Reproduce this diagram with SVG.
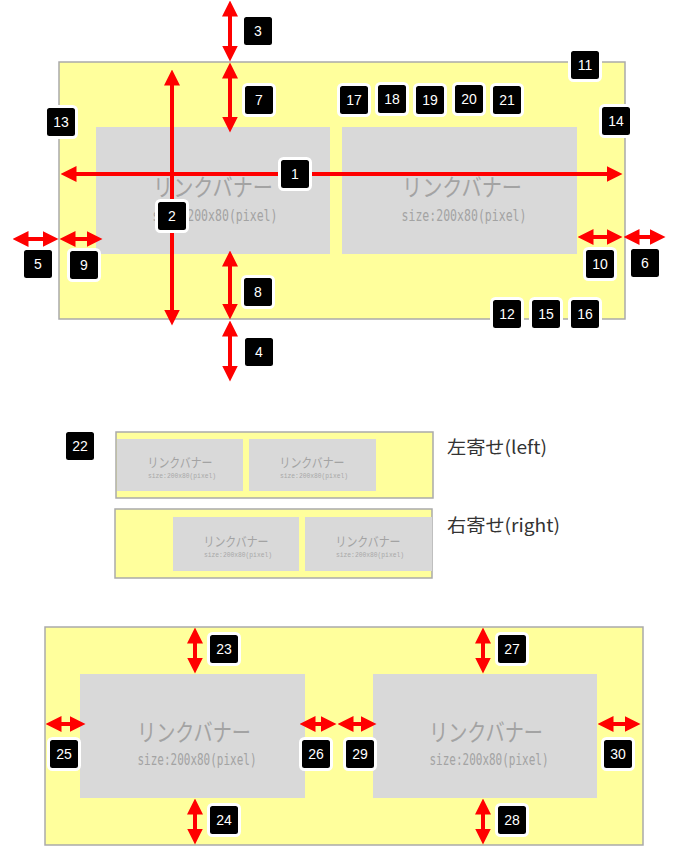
<svg xmlns="http://www.w3.org/2000/svg" width="675" height="846" viewBox="0 0 675 846">
<style>
.panel{fill:#ffff9c;stroke:#aaaaaa;stroke-width:1.5}
.ban{fill:#d9d9d9}
.bt{font-family:"Noto Sans CJK JP","Noto Sans",sans-serif;fill:#a3a3a3;text-anchor:middle}
.bs{font-family:"DejaVu Sans Mono","Liberation Mono",monospace;fill:#a3a3a3;text-anchor:middle}
.bss{font-family:"Liberation Mono","DejaVu Sans Mono",monospace;fill:#a8a8a8;text-anchor:middle}
.arr{stroke:#ff0000;stroke-width:4;fill:none;marker-start:url(#ah);marker-end:url(#ah)}
.lb rect{fill:#000;stroke:#fff;stroke-width:3}
.lb text{font-family:"Liberation Sans",Arial,sans-serif;font-size:14px;fill:#fff;text-anchor:middle}
.cap{font-family:"Noto Sans CJK JP","Noto Sans",sans-serif;font-size:18px;fill:#333}
</style>
<defs>
<marker id="ah" viewBox="0 0 16 16" markerWidth="16" markerHeight="16" refX="0.5" refY="8" orient="auto-start-reverse" markerUnits="userSpaceOnUse"><path d="M0,0 L16,8 L0,16 z" fill="#ff0000"/></marker>
</defs>
<rect width="675" height="846" fill="#fff"/>

<g id="top-panel">
<rect class="panel" x="59" y="62" width="566" height="257"/>
<rect class="ban" x="96" y="127" width="234" height="127"/>
<rect class="ban" x="342" y="127" width="235" height="127"/>
<text class="bt" x="213" y="196" font-size="24" textLength="120" lengthAdjust="spacingAndGlyphs">リンクバナー</text>
<text class="bs" x="215" y="221" font-size="15" textLength="125" lengthAdjust="spacingAndGlyphs">size:200x80(pixel)</text>
<text class="bt" x="462" y="196" font-size="24" textLength="120" lengthAdjust="spacingAndGlyphs">リンクバナー</text>
<text class="bs" x="464" y="221" font-size="15" textLength="125" lengthAdjust="spacingAndGlyphs">size:200x80(pixel)</text>
</g>

<g id="mid-left-panel">
<rect class="panel" x="116" y="432" width="317" height="66"/>
<rect class="ban" x="117" y="439" width="126" height="52"/>
<rect class="ban" x="249" y="439" width="127" height="52"/>
<text class="bt" x="180" y="467" font-size="13" textLength="65" lengthAdjust="spacingAndGlyphs">リンクバナー</text>
<text class="bss" x="182" y="478" font-size="7" textLength="68" lengthAdjust="spacingAndGlyphs">size:200x80(pixel)</text>
<text class="bt" x="312" y="467" font-size="13" textLength="65" lengthAdjust="spacingAndGlyphs">リンクバナー</text>
<text class="bss" x="314" y="478" font-size="7" textLength="68" lengthAdjust="spacingAndGlyphs">size:200x80(pixel)</text>
</g>
<text class="cap" x="447" y="454" textLength="100" lengthAdjust="spacingAndGlyphs">左寄せ(left)</text>

<g id="mid-right-panel">
<rect class="panel" x="115" y="509" width="317" height="69"/>
<rect class="ban" x="173" y="517" width="126" height="54"/>
<rect class="ban" x="305" y="517" width="127" height="54"/>
<text class="bt" x="236" y="546" font-size="13" textLength="65" lengthAdjust="spacingAndGlyphs">リンクバナー</text>
<text class="bss" x="238" y="557" font-size="7" textLength="68" lengthAdjust="spacingAndGlyphs">size:200x80(pixel)</text>
<text class="bt" x="368" y="546" font-size="13" textLength="65" lengthAdjust="spacingAndGlyphs">リンクバナー</text>
<text class="bss" x="370" y="557" font-size="7" textLength="68" lengthAdjust="spacingAndGlyphs">size:200x80(pixel)</text>
</g>
<text class="cap" x="447" y="532" textLength="113" lengthAdjust="spacingAndGlyphs">右寄せ(right)</text>

<g id="bottom-panel">
<rect class="panel" x="45" y="627" width="598" height="218"/>
<rect class="ban" x="80" y="674" width="225" height="124"/>
<rect class="ban" x="373" y="674" width="224" height="124"/>
<text class="bt" x="194" y="741" font-size="24" textLength="114" lengthAdjust="spacingAndGlyphs">リンクバナー</text>
<text class="bs" x="197" y="765" font-size="15" textLength="119" lengthAdjust="spacingAndGlyphs">size:200x80(pixel)</text>
<text class="bt" x="486" y="741" font-size="24" textLength="114" lengthAdjust="spacingAndGlyphs">リンクバナー</text>
<text class="bs" x="489" y="765" font-size="15" textLength="119" lengthAdjust="spacingAndGlyphs">size:200x80(pixel)</text>
</g>

<g id="connectors">
<line class="arr" x1="76" y1="174" x2="607" y2="174"/>
<line class="arr" x1="172" y1="85" x2="172" y2="310"/>
<line class="arr" x1="230" y1="16" x2="230" y2="46"/>
<line class="arr" x1="230" y1="78" x2="230" y2="117"/>
<line class="arr" x1="230" y1="266" x2="230" y2="304"/>
<line class="arr" x1="230" y1="336" x2="230" y2="366"/>
<line class="arr" x1="28" y1="239" x2="43" y2="239"/>
<line class="arr" x1="75" y1="239" x2="87" y2="239"/>
<line class="arr" x1="593" y1="237" x2="607" y2="237"/>
<line class="arr" x1="639" y1="237" x2="650" y2="237"/>
<line class="arr" x1="195" y1="643" x2="195" y2="658"/>
<line class="arr" x1="195" y1="814" x2="195" y2="829"/>
<line class="arr" x1="61" y1="724" x2="70" y2="724"/>
<line class="arr" x1="315" y1="724" x2="321" y2="724"/>
<line class="arr" x1="353" y1="724" x2="361" y2="724"/>
<line class="arr" x1="483" y1="643" x2="483" y2="658"/>
<line class="arr" x1="483" y1="814" x2="483" y2="829"/>
<line class="arr" x1="613" y1="724" x2="625" y2="724"/>
</g>

<g id="n1" class="lb"><rect x="279.5" y="158.5" width="31" height="31" rx="4"/><text x="295" y="179">1</text></g>
<g id="n2" class="lb"><rect x="156.5" y="200.5" width="31" height="31" rx="4"/><text x="172" y="221">2</text></g>
<g id="n3" class="lb"><rect x="242.5" y="15.5" width="31" height="31" rx="4"/><text x="258" y="36">3</text></g>
<g id="n4" class="lb"><rect x="243.5" y="336.5" width="31" height="31" rx="4"/><text x="259" y="357">4</text></g>
<g id="n5" class="lb"><rect x="22.5" y="248.5" width="31" height="31" rx="4"/><text x="38" y="269">5</text></g>
<g id="n6" class="lb"><rect x="629.5" y="247.5" width="31" height="31" rx="4"/><text x="645" y="268">6</text></g>
<g id="n7" class="lb"><rect x="243.5" y="84.5" width="31" height="31" rx="4"/><text x="259" y="105">7</text></g>
<g id="n8" class="lb"><rect x="242.5" y="276.5" width="31" height="31" rx="4"/><text x="258" y="297">8</text></g>
<g id="n9" class="lb"><rect x="68.5" y="249.5" width="31" height="31" rx="4"/><text x="84" y="270">9</text></g>
<g id="n10" class="lb"><rect x="584.5" y="248.5" width="31" height="31" rx="4"/><text x="600" y="269">10</text></g>
<g id="n11" class="lb"><rect x="569.5" y="49.5" width="31" height="31" rx="4"/><text x="585" y="70">11</text></g>
<g id="n12" class="lb"><rect x="491.5" y="298.5" width="31" height="31" rx="4"/><text x="507" y="319">12</text></g>
<g id="n13" class="lb"><rect x="45.5" y="106.5" width="31" height="31" rx="4"/><text x="61" y="127">13</text></g>
<g id="n14" class="lb"><rect x="600.5" y="105.5" width="31" height="31" rx="4"/><text x="616" y="126">14</text></g>
<g id="n15" class="lb"><rect x="530.5" y="298.5" width="31" height="31" rx="4"/><text x="546" y="319">15</text></g>
<g id="n16" class="lb"><rect x="569.5" y="298.5" width="31" height="31" rx="4"/><text x="585" y="319">16</text></g>
<g id="n17" class="lb"><rect x="338.5" y="84.5" width="31" height="31" rx="4"/><text x="354" y="105">17</text></g>
<g id="n18" class="lb"><rect x="376.5" y="83.5" width="31" height="31" rx="4"/><text x="392" y="104">18</text></g>
<g id="n19" class="lb"><rect x="414.5" y="84.5" width="31" height="31" rx="4"/><text x="430" y="105">19</text></g>
<g id="n20" class="lb"><rect x="453.5" y="83.5" width="31" height="31" rx="4"/><text x="469" y="104">20</text></g>
<g id="n21" class="lb"><rect x="491.5" y="84.5" width="31" height="31" rx="4"/><text x="507" y="105">21</text></g>
<g id="n22" class="lb"><rect x="64.5" y="430.5" width="31" height="31" rx="4"/><text x="80" y="451">22</text></g>
<g id="n23" class="lb"><rect x="208.5" y="633.5" width="31" height="31" rx="4"/><text x="224" y="654">23</text></g>
<g id="n24" class="lb"><rect x="208.5" y="804.5" width="31" height="31" rx="4"/><text x="224" y="825">24</text></g>
<g id="n25" class="lb"><rect x="48.5" y="738.5" width="31" height="31" rx="4"/><text x="64" y="759">25</text></g>
<g id="n26" class="lb"><rect x="300.5" y="738.5" width="31" height="31" rx="4"/><text x="316" y="759">26</text></g>
<g id="n27" class="lb"><rect x="496.5" y="633.5" width="31" height="31" rx="4"/><text x="512" y="654">27</text></g>
<g id="n28" class="lb"><rect x="496.5" y="804.5" width="31" height="31" rx="4"/><text x="512" y="825">28</text></g>
<g id="n29" class="lb"><rect x="344.5" y="738.5" width="31" height="31" rx="4"/><text x="360" y="759">29</text></g>
<g id="n30" class="lb"><rect x="602.5" y="738.5" width="31" height="31" rx="4"/><text x="618" y="759">30</text></g>
</svg>
